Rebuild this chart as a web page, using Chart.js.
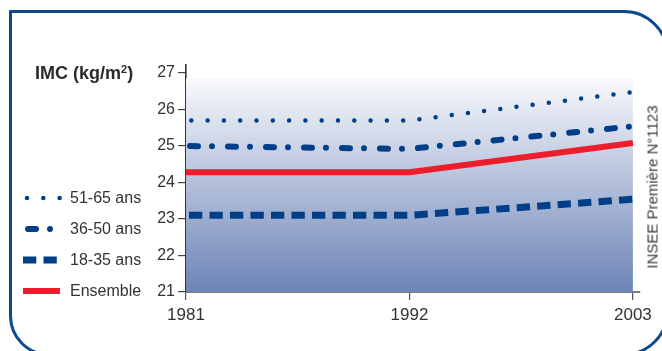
<!DOCTYPE html>
<html lang="fr">
<head>
<meta charset="utf-8">
<title>IMC moyen selon l'âge, 1981-2003</title>
<script src="https://cdn.jsdelivr.net/npm/chart.js@4.4.1/dist/chart.umd.min.js"></script>
<style>
  html, body { margin: 0; padding: 0; background: #fff; }
  body { width: 662px; height: 351px; position: relative; overflow: hidden;
         font-family: "Liberation Sans", Arial, sans-serif; }
  #frame { position: absolute; left: 9px; top: 10px; width: 660px; height: 346px;
           border: 3px solid #0d4a8c; border-radius: 0 45px 45px 40px; box-sizing: border-box; }
  #wrap { position: absolute; left: 0; top: 0; width: 662px; height: 351px; }
  #unit { position: absolute; left: 35px; top: 63px; font-size: 18px; font-weight: bold; line-height: 21px;
          color: #2a2a2a; white-space: nowrap; }
  #unit sup { font-size: 11px; line-height: 0; vertical-align: 0; position: relative; top: -6px; }
  #source { position: absolute; left: 652px; top: 187px; transform: translate(-50%, -50%) rotate(-90deg);
            font-size: 15px; color: #3a3a3a; white-space: nowrap; }
</style>
</head>
<body>
<div id="frame"></div>
<div id="wrap"><canvas id="chart" width="662" height="351"></canvas></div>
<div id="unit">IMC (kg/m<sup>2</sup>)</div>
<div id="source">INSEE Première N°1123</div>
<script>
// Années d'enquête et indice de masse corporelle moyen par tranche d'âge
const years = [1981, 1992, 2003];
const yearTicks = [1981, 1992, 2003];
const imcTicks = [21, 22, 23, 24, 25, 26, 27];
const seriesLabels = ["51-65 ans", "36-50 ans", "18-35 ans", "Ensemble"];
const imc5165 = [25.7, 25.7, 26.48];
const imc3650 = [25.0, 24.92, 25.54];
const imc1835 = [23.1, 23.1, 23.54];
const imcEnsemble = [24.28, 24.28, 25.08];

const BLUE = "#003f87";
const RED = "#ee1d2b";

const toPoints = vals => years.map((x, i) => ({ x, y: vals[i] }));

// Fond dégradé derrière les courbes
const backdrop = {
  id: "backdrop",
  beforeDatasetsDraw(chart) {
    const { ctx, scales: { x, y } } = chart;
    const left = x.getPixelForValue(1981), right = x.getPixelForValue(2003);
    const top = y.getPixelForValue(26.85), bottom = y.getPixelForValue(21);
    const g = ctx.createLinearGradient(0, top, 0, bottom);
    g.addColorStop(0, "#f8f9fc");
    g.addColorStop(1, "#6d84b7");
    ctx.save();
    ctx.fillStyle = g;
    ctx.fillRect(left, top, right - left, bottom - top);
    ctx.restore();
  }
};

// Légende à gauche : un échantillon de trait puis le libellé
const sideLegend = {
  id: "sideLegend",
  afterDraw(chart) {
    const { ctx } = chart;
    const rows = [198, 229, 260, 291];
    const spans = [[27, 60], [28, 58], [23, 58], [23, 60]];
    chart.data.datasets.forEach((ds, i) => {
      const yy = rows[i];
      ctx.save();
      ctx.strokeStyle = ds.borderColor;
      ctx.lineWidth = ds.borderWidth;
      ctx.lineCap = ds.borderCapStyle || "butt";
      ctx.setLineDash(ds.borderDash || []);
      ctx.lineDashOffset = 0;
      ctx.beginPath();
      ctx.moveTo(spans[i][0], yy);
      ctx.lineTo(spans[i][1], yy);
      ctx.stroke();
      ctx.restore();
      ctx.save();
      ctx.fillStyle = "#333";
      ctx.font = "16px 'Liberation Sans', Arial, sans-serif";
      ctx.textBaseline = "middle";
      ctx.fillText(ds.label, 70, yy + 1);
      ctx.restore();
    });
  }
};

new Chart(document.getElementById("chart"), {
  type: "line",
  data: {
    datasets: [
      { label: seriesLabels[0], data: toPoints(imc5165), borderColor: BLUE, borderWidth: 4.5,
        borderDash: [0, 16.3], borderDashOffset: 11, borderCapStyle: "round" },
      { label: seriesLabels[1], data: toPoints(imc3650), borderColor: BLUE, borderWidth: 6,
        borderDash: [8, 14, 0, 16], borderDashOffset: -4, borderCapStyle: "round" },
      { label: seriesLabels[2], data: toPoints(imc1835), borderColor: BLUE, borderWidth: 7,
        borderDash: [13.3, 7.2], borderDashOffset: -3, borderCapStyle: "butt" },
      { label: seriesLabels[3], data: toPoints(imcEnsemble), borderColor: RED, borderWidth: 6,
        borderCapStyle: "butt" }
    ]
  },
  options: {
    responsive: false,
    animation: false,
    devicePixelRatio: 1,
    layout: { padding: { left: 0, top: 65, right: 22, bottom: 0 } },
    elements: { point: { radius: 0 }, line: { tension: 0, fill: false } },
    plugins: { legend: { display: false }, tooltip: { enabled: false } },
    scales: {
      x: {
        type: "linear", min: 1981, max: 2003.35,
        afterBuildTicks: s => { s.ticks = yearTicks.map(v => ({ value: v })); },
        afterFit: s => { s.height = 59; },
        grid: { display: true, drawOnChartArea: false, drawTicks: true, tickLength: 8, color: "#555", lineWidth: 1.2 },
        border: { display: true, color: "#7a7a7a", width: 2 },
        ticks: { padding: 5, color: "#333", font: { family: "'Liberation Sans', Arial, sans-serif", size: 17 },
                 maxRotation: 0, callback: v => String(v) }
      },
      y: {
        type: "linear", min: 21, max: 27.22,
        afterBuildTicks: s => { s.ticks = imcTicks.map(v => ({ value: v })); },
        afterFit: s => { s.width = 186; },
        grid: { display: true, drawOnChartArea: false, drawTicks: true, tickLength: 8, color: "#444", lineWidth: 1.2 },
        border: { display: true, color: "#333", width: 1.6 },
        ticks: { padding: 3, color: "#333", font: { family: "'Liberation Sans', Arial, sans-serif", size: 16 },
                 callback: v => String(v) }
      }
    }
  },
  plugins: [backdrop, sideLegend]
});
</script>
</body>
</html>
